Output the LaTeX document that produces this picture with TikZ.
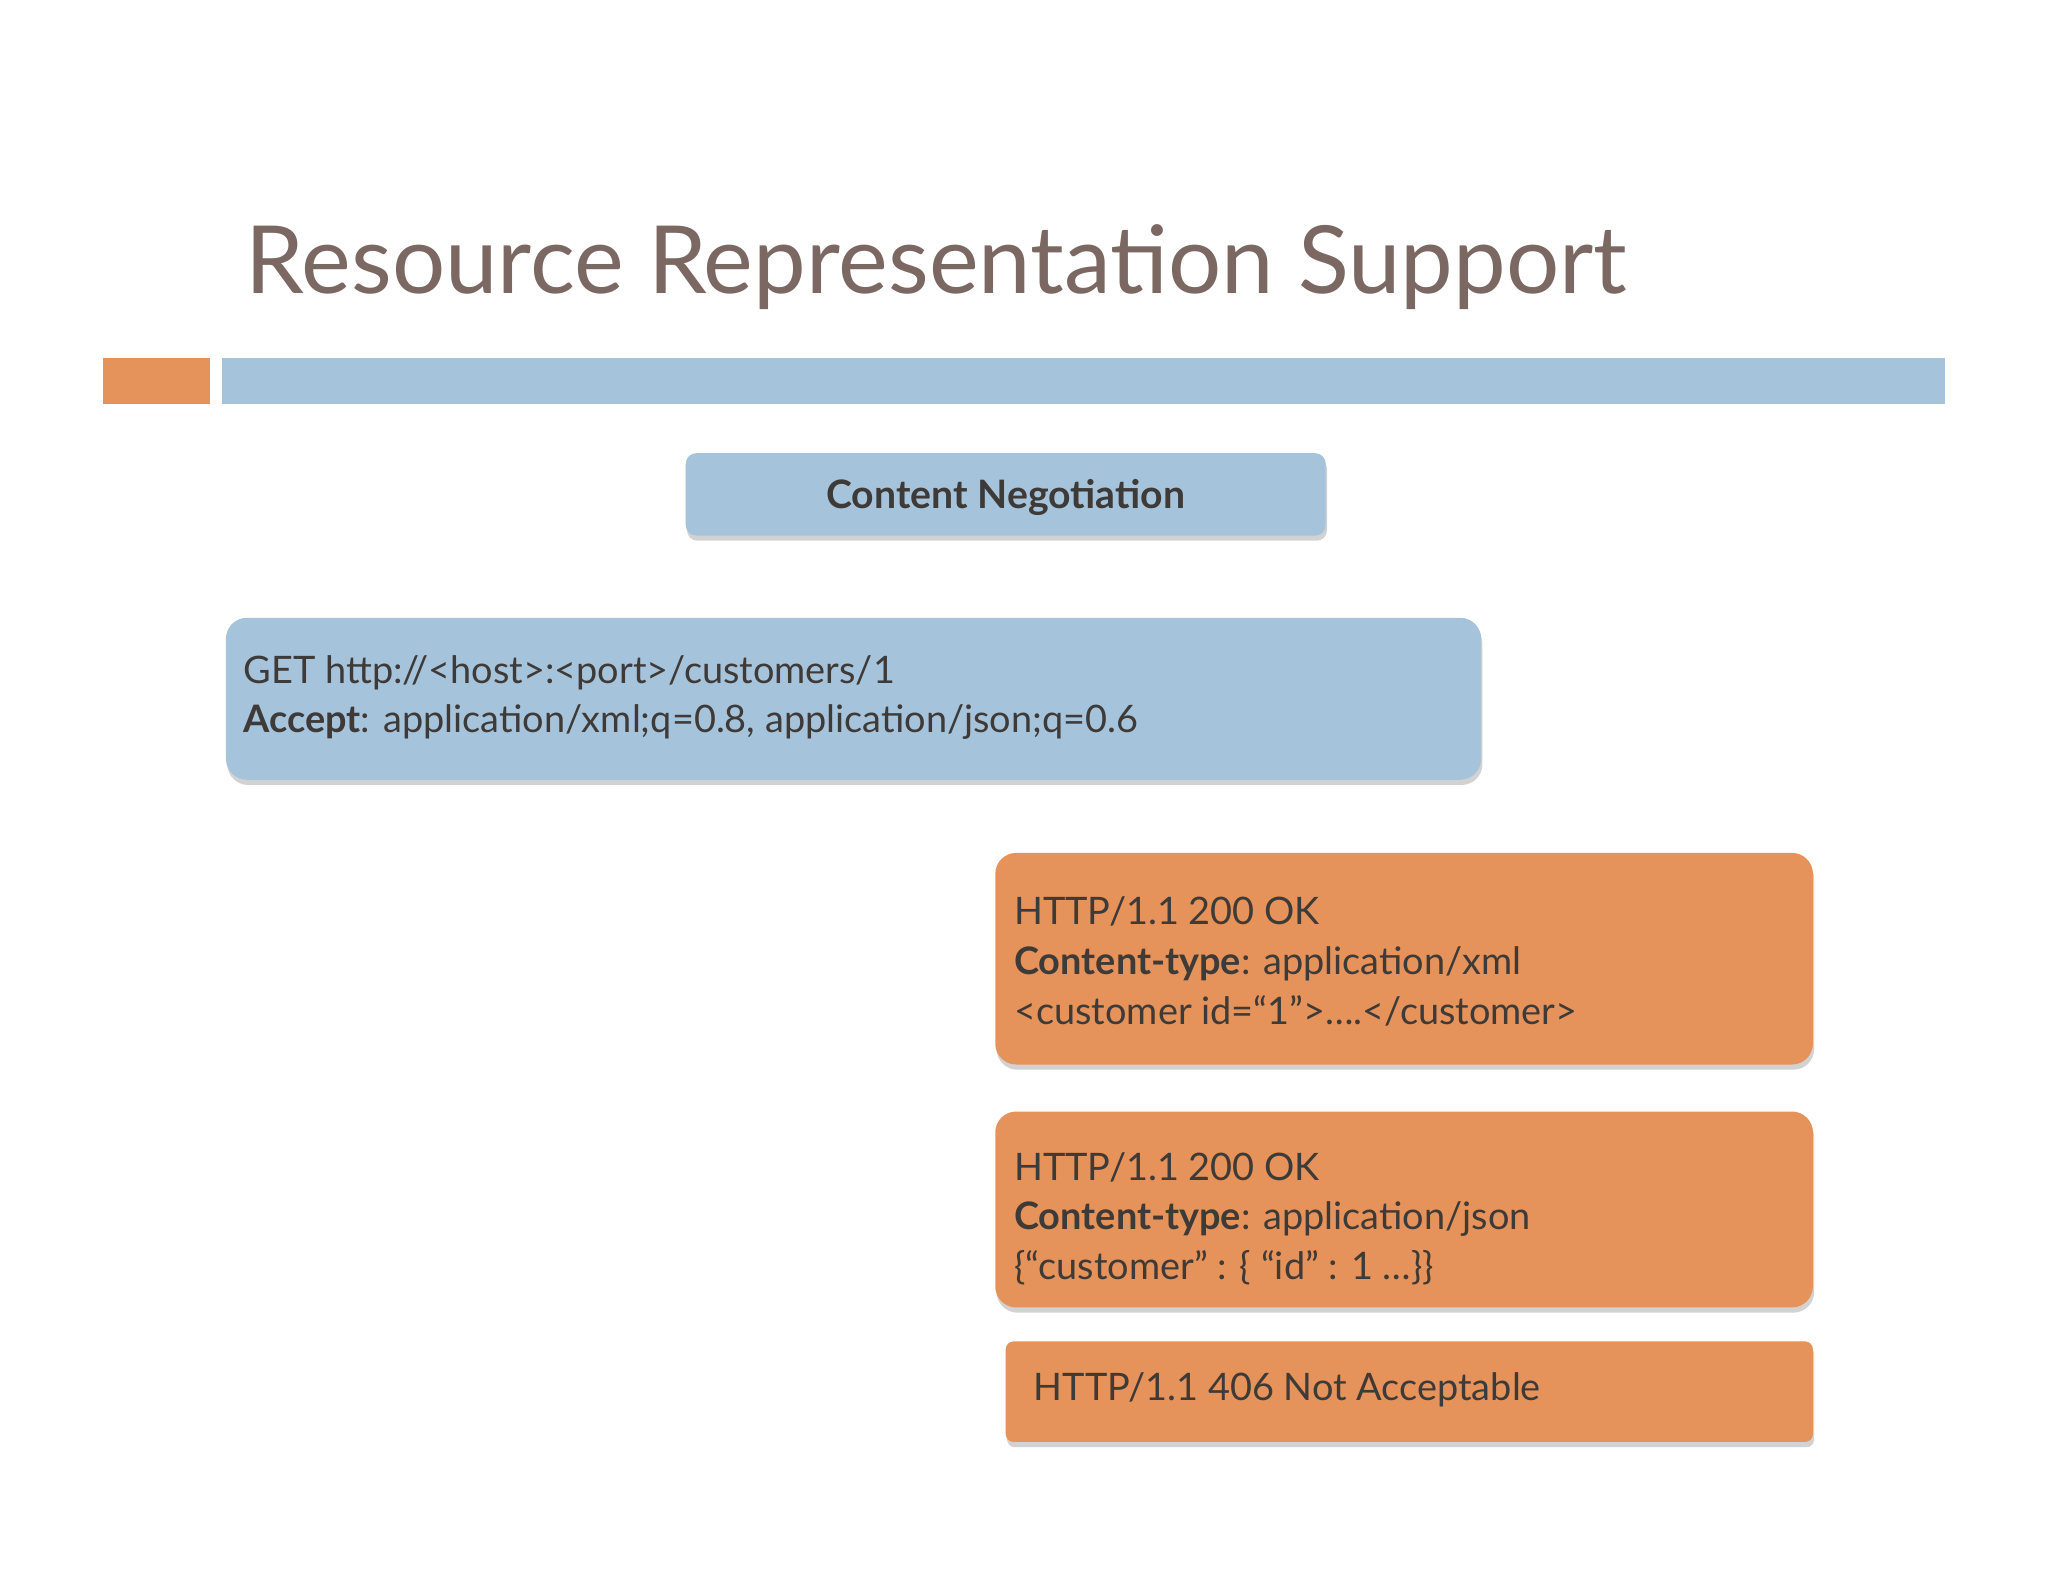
\documentclass[tikz,border=0pt]{standalone}
\usepackage{fontspec}
\setmainfont{Lato}
\usetikzlibrary{shadows}
\definecolor{tblue}{HTML}{A6C3DC}
\definecolor{torange}{HTML}{E5935A}
\definecolor{ttitle}{HTML}{7B6862}
\definecolor{ttext}{HTML}{3E3A37}
\tikzset{
  box/.style={rounded corners=16pt, drop shadow={shadow xshift=1pt,shadow yshift=-4pt,opacity=0.35}},
  txt/.style={anchor=west, text=ttext, font=\fontsize{29}{34}\selectfont, align=left},
}
\begin{document}
\begin{tikzpicture}[x=1pt,y=-1pt]
\useasboundingbox (0,0) rectangle (1568,1211);
\fill[white] (0,0) rectangle (1568,1211);
\node[anchor=base west, text=ttitle, font=\fontsize{72}{80}\selectfont, inner sep=0] (title) at (188,225) {Resource Representation Support};
\fill[torange] (79,274) rectangle (161,309);
\fill[tblue] (170,274) rectangle (1489,309);
\fill[tblue, box, rounded corners=8pt] (525,347) rectangle (1015,410);
\node[text=ttext, font=\fontsize{30}{34}\selectfont\bfseries] (cn) at (770,381) {Content Negotiation};
\fill[tblue, box] (173,473) rectangle (1134,597);
\node[txt] (get) at (183,534) {GET http://<host>:<port>/customers/1\\[4pt]\textbf{Accept}: application/xml;q=0.8, application/json;q=0.6};
\fill[torange, box] (762,653) rectangle (1388,815);
\node[txt] (r1) at (773,736) {HTTP/1.1 200 OK\\[4pt]\textbf{Content-type}: application/xml\\[4pt]<customer id=“1”>….</customer>};
\fill[torange, box] (762,851) rectangle (1388,1001);
\node[txt] (r2) at (773,933) {HTTP/1.1 200 OK\\[4pt]\textbf{Content-type}: application/json\\[4pt]\{“customer” : \{ “id” : 1 …\}\}};
\fill[torange, box, rounded corners=6pt] (770,1027) rectangle (1388,1104);
\node[txt] (r3) at (788,1064) {HTTP/1.1 406 Not Acceptable};
\end{tikzpicture}
\end{document}
